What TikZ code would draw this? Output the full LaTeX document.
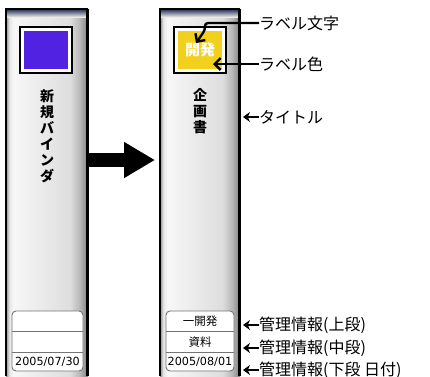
\documentclass[tikz,border=0pt]{standalone}
\usepackage{fontspec}
\newfontfamily\jp{Noto Sans CJK JP}
\newfontfamily\dv{DejaVu Sans}
\usetikzlibrary{arrows.meta}
\pgfdeclarehorizontalshading{binderbody}{100bp}{color(0bp)=(black!45); color(25bp)=(black!45); color(27bp)=(black!10); color(29.5bp)=(black!3); color(50bp)=(black!9); color(64bp)=(black!13); color(70bp)=(black!28); color(75bp)=(black!50); color(100bp)=(black!50)}
\definecolor{labpurple}{RGB}{82,34,226}
\definecolor{labyellow}{RGB}{242,208,30}
\definecolor{navy}{RGB}{30,45,80}
\tikzset{
  lab/.style={font=\jp\fontsize{16}{16}\selectfont, anchor=west, inner sep=0pt},
  sarr/.style={line width=2.6pt, -{Stealth[length=7pt,width=10pt]}},
  barr/.style={line width=2.4pt, -{Straight Barb[length=6pt,width=12pt]}},
  title/.style={font=\jp\bfseries\fontsize{14}{16}\selectfont, align=center, inner sep=0pt},
  cell/.style={font=\jp\fontsize{11.5}{12}\selectfont, inner sep=0pt},
  datecell/.style={font=\dv\fontsize{11.2}{12}\selectfont, inner sep=0pt},
  panel/.style={draw=black!55, line width=0.9pt, fill=white, rounded corners=4pt},
  rowline/.style={draw=black!55, line width=0.7pt},
}
\begin{document}
\begin{tikzpicture}[x=1pt,y=-1pt]
\useasboundingbox (0,0) rectangle (430,376);
% ---- left binder
\shade[shading=binderbody] (6,9) rectangle (88,376);
\shade[top color=navy, bottom color=black!8] (6,9) rectangle (88,17);
\draw[line width=1.5pt] (6,376) -- (6,9) -- (88,9);
\draw[line width=3pt] (87.5,8.5) -- (87.5,376);
\draw[line width=1.8pt, fill=white] (20,27) rectangle (72,73);
\fill[labpurple] (24,31) rectangle (68,69);
\node[title] (tl) at (47,136.5) {新\\規\\バ\\イ\\ン\\ダ};
\draw[panel] (12,311) rectangle (83,371);
\draw[rowline] (12,331) -- (83,331);
\draw[rowline] (12,352) -- (83,352);
\node[datecell] (dl) at (47.5,362) {2005/07/30};
% ---- right binder
\shade[shading=binderbody] (160,9) rectangle (240,376);
\shade[top color=navy, bottom color=black!8] (160,9) rectangle (240,17);
\draw[line width=1.5pt] (160,376) -- (160,9) -- (240,9);
\draw[line width=3pt] (239.5,8.5) -- (239.5,376);
\draw[line width=1.8pt, fill=white] (174,27) rectangle (226,73);
\fill[labyellow] (178,31) rectangle (222,69);
\node[font=\jp\bfseries\fontsize{15}{15}\selectfont, text=white, inner sep=0pt] (kh) at (200,50) {開発};
\node[title] (tr) at (200,111.5) {企\\画\\書};
\draw[panel] (166,311) rectangle (234,371);
\draw[rowline] (166,331) -- (234,331);
\draw[rowline] (166,352) -- (234,352);
\node[cell] (r1) at (200,321) {一開発};
\node[cell] (r2) at (200,342) {資料};
\node[datecell] (dr) at (200,362) {2005/08/01};
% ---- big arrow
\coordinate (a1) at (89,160);
\coordinate (a2) at (155,160);
\draw[line width=14pt, -{Triangle[length=31pt,width=34pt]}] (a1) -- (a2);
% ---- labels
\node[lab] (L1) at (259,23) {ラベル文字};
\node[lab] (L2) at (259,64) {ラベル色};
\node[lab] (L3) at (259,117) {タイトル};
\node[lab] (L4) at (259,325) {管理情報(上段)};
\node[lab] (L5) at (259,348) {管理情報(中段)};
\node[lab] (L6) at (259,370) {管理情報(下段 日付)};
\coordinate (k1) at (205,23);
\coordinate (k2) at (205,30);
\coordinate (t1) at (196,43);
\coordinate (t2) at (213,64);
\draw[barr, rounded corners=3pt] (L1.west) -- (k1) -- (k2) -- (t1);
\draw[barr] (L2.west) -- (t2);
\coordinate (p3) at (243,117);
\coordinate (p4) at (243,325);
\coordinate (p5) at (243,348);
\coordinate (p6) at (243,370);
\draw[sarr] (L3.west) -- (p3);
\draw[sarr] (L4.west) -- (p4);
\draw[sarr] (L5.west) -- (p5);
\draw[sarr] (L6.west) -- (p6);
\end{tikzpicture}
\end{document}
